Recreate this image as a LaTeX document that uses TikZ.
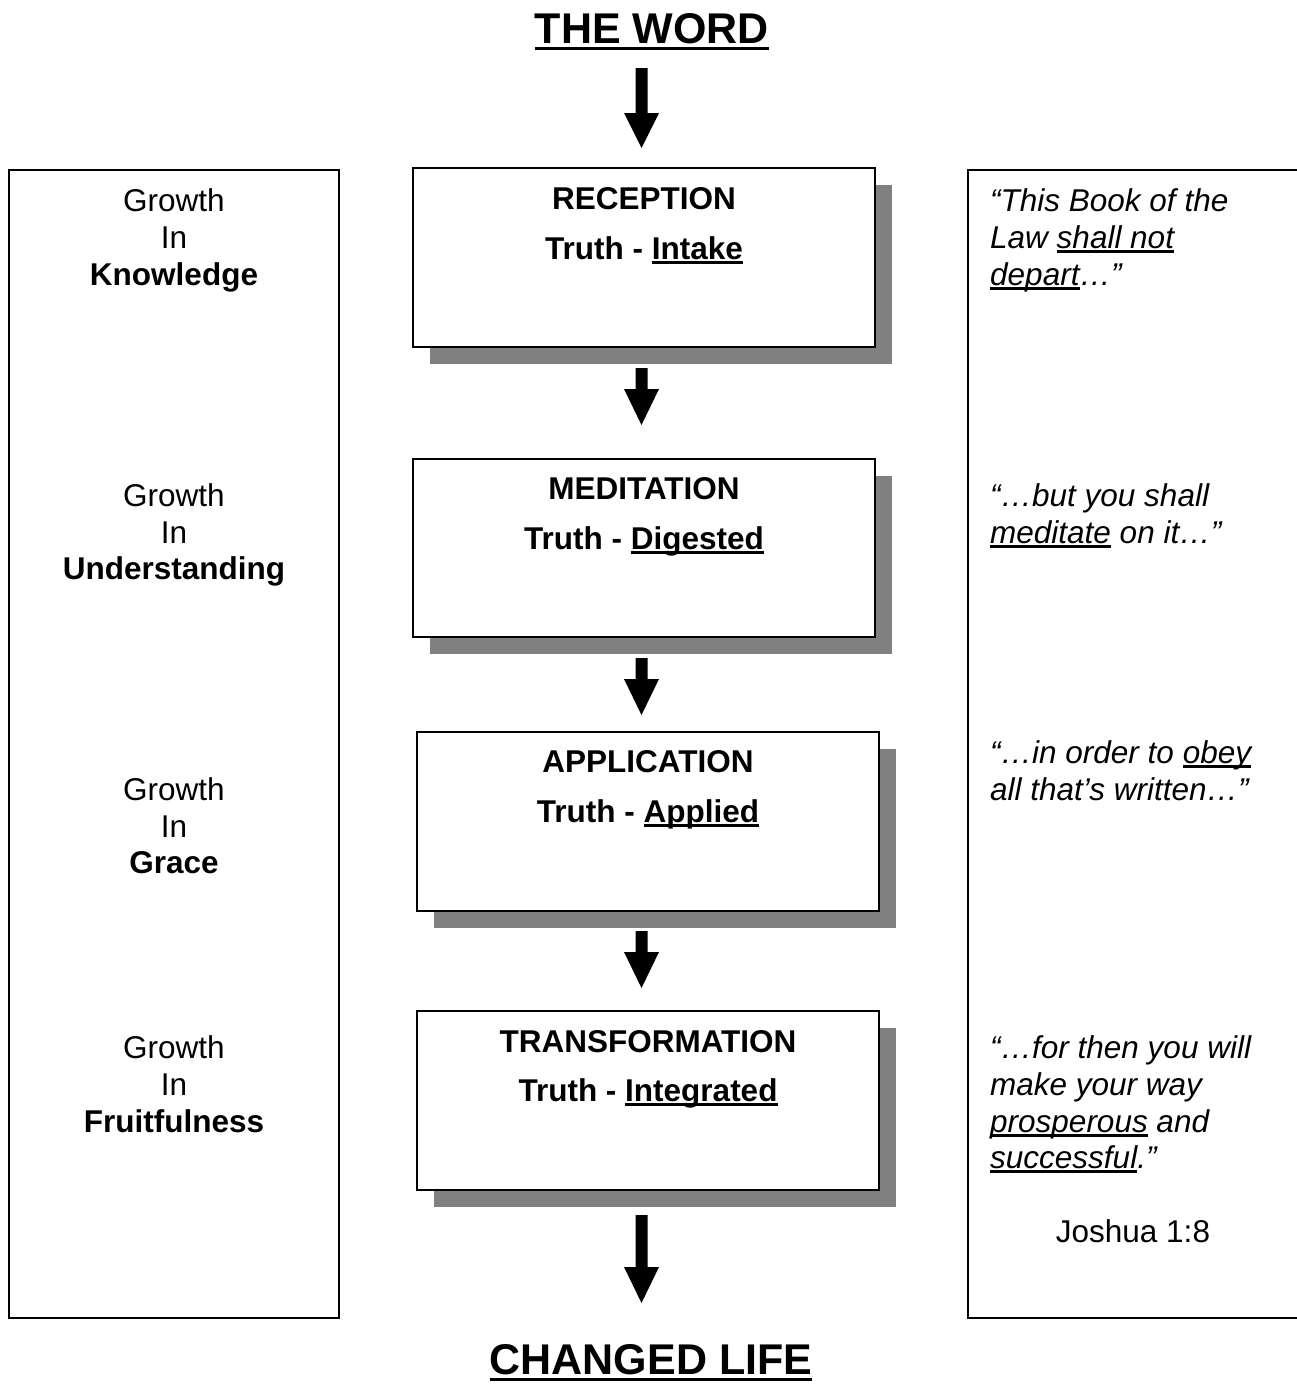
\documentclass[tikz,border=0pt]{standalone}
\usepackage{fontspec}
\setmainfont{Liberation Sans}
\usetikzlibrary{shadows}
\definecolor{shadowgray}{HTML}{808080}
\newcommand\ulbold[1]{\setbox0\hbox{#1}\rlap{\rule[-5pt]{\wd0}{3pt}}\box0\relax}
\newcommand\ulital[1]{\setbox0\hbox{#1}\rlap{\rule[-4.5pt]{\wd0}{2.3pt}}\box0\relax}
\newcommand\ultitle[1]{\setbox0\hbox{#1}\rlap{\rule[-7pt]{\wd0}{3.4pt}}\box0\relax}
\newcommand\barrow[4]{\fill[black] (#1-6,#2) -- (#1+6,#2) -- (#1+6,#3) -- (#1+17.5,#3) -- (#1,#4) -- (#1-17.5,#3) -- (#1-6,#3) -- cycle;}
\tikzset{
  bodytext/.style={inner sep=0pt, font=\fontsize{31.5}{37}\selectfont},
  boldtext/.style={bodytext, font=\fontsize{31.5}{37}\selectfont\bfseries},
  itext/.style={bodytext, anchor=base west, font=\fontsize{31.5}{37}\selectfont\itshape},
  titletext/.style={inner sep=0pt, anchor=base, font=\fontsize{43}{50}\selectfont\bfseries},
  stepbox/.style={draw=black, line width=2pt, fill=white, inner sep=0pt,
    general shadow={fill=shadowgray, shadow xshift=17pt, shadow yshift=-17pt}},
  sidebox/.style={draw=black, line width=2pt, inner sep=0pt}
}
\begin{document}
\begin{tikzpicture}[x=1pt,y=-1pt]
\useasboundingbox (0,0) rectangle (1297,1385);
\fill[white] (0,0) rectangle (1297,1385);

% side boxes
\node[sidebox, minimum width=330pt, minimum height=1148pt] (L) at (174,744) {};
\node[sidebox, minimum width=342pt, minimum height=1148pt] (R) at (1139,744) {};

% step boxes
\node[stepbox, minimum width=462pt, minimum height=179pt] (b1) at (644,257.5) {};
\node[stepbox, minimum width=462pt, minimum height=178pt] (b2) at (644,548) {};
\node[stepbox, minimum width=462pt, minimum height=179pt] (b3) at (648,821.5) {};
\node[stepbox, minimum width=462pt, minimum height=179pt] (b4) at (648,1100.5) {};

% titles
\node[titletext] (top) at (652,43) {\ultitle{THE WORD}};
\node[titletext] (bot) at (651,1374) {\ultitle{CHANGED LIFE}};

% arrows
\barrow{641.5}{68}{113}{148}
\barrow{641.5}{368}{389}{425}
\barrow{641.5}{658}{679}{715}
\barrow{641.5}{931}{952}{988}
\barrow{641.5}{1215}{1267}{1303}

% box texts
\node[boldtext, anchor=base] (t1a) at (644,209) {RECEPTION};
\node[boldtext, anchor=base] (t1b) at (644,259) {Truth - \ulbold{Intake}};
\node[boldtext, anchor=base] (t2a) at (644,499) {MEDITATION};
\node[boldtext, anchor=base] (t2b) at (644,549) {Truth - \ulbold{Digested}};
\node[boldtext, anchor=base] (t3a) at (648,772) {APPLICATION};
\node[boldtext, anchor=base] (t3b) at (648,822) {Truth - \ulbold{Applied}};
\node[boldtext, anchor=base] (t4a) at (648,1052) {TRANSFORMATION};
\node[boldtext, anchor=base] (t4b) at (648,1101) {Truth - \ulbold{Integrated}};

% left column
\node[bodytext, anchor=base] (g1a) at (174,211) {Growth};
\node[bodytext, anchor=base] (g1b) at (174,248) {In};
\node[boldtext, anchor=base] (g1c) at (174,285) {Knowledge};
\node[bodytext, anchor=base] (g2a) at (174,506) {Growth};
\node[bodytext, anchor=base] (g2b) at (174,543) {In};
\node[boldtext, anchor=base] (g2c) at (174,579) {Understanding};
\node[bodytext, anchor=base] (g3a) at (174,800) {Growth};
\node[bodytext, anchor=base] (g3b) at (174,837) {In};
\node[boldtext, anchor=base] (g3c) at (174,873) {Grace};
\node[bodytext, anchor=base] (g4a) at (174,1058) {Growth};
\node[bodytext, anchor=base] (g4b) at (174,1095) {In};
\node[boldtext, anchor=base] (g4c) at (174,1132) {Fruitfulness};

% right column
\node[itext] (q1a) at (990,211) {“This Book of the};
\node[itext] (q1b) at (990,248) {Law \ulital{shall not}};
\node[itext] (q1c) at (990,285) {\ulital{depart}…”};
\node[itext] (q2a) at (990,506) {“…but you shall};
\node[itext] (q2b) at (990,543) {\ulital{meditate} on it…”};
\node[itext] (q3a) at (990,763) {“…in order to \ulital{obey}};
\node[itext] (q3b) at (990,800) {all that’s written…”};
\node[itext] (q4a) at (990,1058) {“…for then you will};
\node[itext] (q4b) at (990,1095) {make your way};
\node[itext] (q4c) at (990,1132) {\ulital{prosperous} and};
\node[itext] (q4d) at (990,1168) {\ulital{successful}.”};
\node[bodytext, anchor=base] (ref) at (1133,1242) {Joshua 1:8};
\end{tikzpicture}
\end{document}
